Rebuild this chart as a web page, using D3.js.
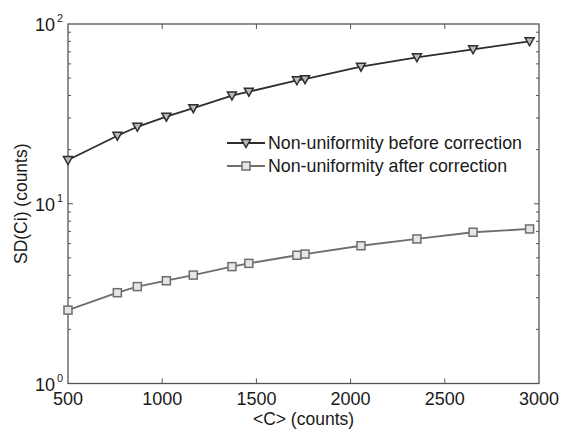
<!DOCTYPE html>
<html>
<head>
<meta charset="utf-8">
<script src="https://cdn.jsdelivr.net/npm/d3@7"></script>
<style>
  body { margin: 0; background: #fff; }
  svg text { font-family: "Liberation Sans", Arial, sans-serif; fill: #1a1a1a; }
</style>
</head>
<body>
<div id="chart"></div>
<script>
// mean counts <C>
const counts = [500, 762, 868, 1022, 1165, 1370, 1460, 1715, 1758, 2055, 2352, 2650, 2950];
// SD(Ci) before / after correction
const sdBefore = [17.5, 23.9, 26.8, 30.5, 34.0, 40.0, 42.0, 48.6, 49.3, 57.9, 65.3, 72.3, 80.1];
const sdAfter = [2.56, 3.20, 3.46, 3.73, 4.01, 4.47, 4.66, 5.17, 5.25, 5.84, 6.37, 6.94, 7.24];
const xTicks = [500, 1000, 1500, 2000, 2500, 3000];
const yDecades = [1, 10, 100];
const legendLabels = ["Non-uniformity before correction", "Non-uniformity after correction"];

const width = 563, height = 432;
const margin = {top: 24, right: 24, bottom: 48.5, left: 68};

const svg = d3.select("#chart").append("svg")
    .attr("width", width)
    .attr("height", height);

const x = d3.scaleLinear().domain([500, 3000]).range([margin.left, width - margin.right]);
const y = d3.scaleLog().domain([1, 100]).range([height - margin.bottom, margin.top]);

const axisColor = "#555";

// minor ticks for log axis
const minorTicks = [];
yDecades.slice(0, -1).forEach(d => {
    for (let k = 2; k <= 9; k++) minorTicks.push(d * k);
});

const g = svg.append("g");

// x ticks (bottom and top, pointing in)
xTicks.slice(1, -1).forEach(t => {
    g.append("line").attr("x1", x(t)).attr("x2", x(t))
        .attr("y1", y(1)).attr("y2", y(1) - 5)
        .attr("stroke", axisColor);
    g.append("line").attr("x1", x(t)).attr("x2", x(t))
        .attr("y1", y(100)).attr("y2", y(100) + 5)
        .attr("stroke", axisColor);
});

// y ticks (left and right)
minorTicks.concat([10]).forEach(t => {
    const len = t === 10 ? 5 : 3;
    g.append("line").attr("x1", x(500)).attr("x2", x(500) + len)
        .attr("y1", y(t)).attr("y2", y(t)).attr("stroke", axisColor);
    g.append("line").attr("x1", x(3000)).attr("x2", x(3000) - len)
        .attr("y1", y(t)).attr("y2", y(t)).attr("stroke", axisColor);
});

// frame
g.append("rect")
    .attr("x", x(500)).attr("y", y(100))
    .attr("width", x(3000) - x(500)).attr("height", y(1) - y(100))
    .attr("fill", "none").attr("stroke", axisColor).attr("stroke-width", 1.3);

// x tick labels
svg.selectAll(".xlab").data(xTicks).enter().append("text")
    .attr("x", d => x(d))
    .attr("y", y(1) + 21)
    .attr("text-anchor", "middle")
    .style("font-size", "18px")
    .text(d => d);

// y tick labels 10^n
yDecades.forEach((d, i) => {
    svg.append("text")
        .attr("x", 55)
        .attr("y", y(d) + 7)
        .attr("text-anchor", "end")
        .style("font-size", "18px")
        .text("10");
    svg.append("text")
        .attr("x", 57)
        .attr("y", y(d) - 2)
        .style("font-size", "11px")
        .text(i);
});

// axis titles
svg.append("text")
    .attr("x", x(1750))
    .attr("y", 425)
    .attr("text-anchor", "middle")
    .style("font-size", "17.5px")
    .text("<C> (counts)");

svg.append("text")
    .attr("transform", `translate(27,${(y(1) + y(100)) / 2}) rotate(-90)`)
    .attr("text-anchor", "middle")
    .style("font-size", "17.5px")
    .text("SD(Ci) (counts)");

const line = d3.line().x(d => x(d[0])).y(d => y(d[1]));

const series = [
    {values: sdBefore, color: "#2e2e2e", marker: "tri"},
    {values: sdAfter, color: "#6e6e6e", marker: "sq"}
];

const drawMarker = (sel, type, color) => {
    if (type === "tri") {
        sel.append("path")
            .attr("d", "M-4.5,-3.5 L4.5,-3.5 L0,4.5 Z")
            .attr("fill", "#bbb").attr("stroke", color).attr("stroke-width", 1.5);
    } else {
        sel.append("rect")
            .attr("x", -4).attr("y", -4).attr("width", 8).attr("height", 8)
            .attr("fill", "#e6e6e6").attr("stroke", color).attr("stroke-width", 1.5);
    }
};

series.forEach(s => {
    const pts = counts.map((c, i) => [c, s.values[i]]);
    svg.append("path")
        .datum(pts)
        .attr("d", line)
        .attr("fill", "none")
        .attr("stroke", s.color)
        .attr("stroke-width", 1.8);
    svg.selectAll(null).data(pts).enter().append("g")
        .attr("transform", d => `translate(${x(d[0])},${y(d[1])})`)
        .each(function () { drawMarker(d3.select(this), s.marker, s.color); });
});

// legend
const legend = svg.append("g");
legendLabels.forEach((label, i) => {
    const ly = 143 + i * 23;
    legend.append("line")
        .attr("x1", 227).attr("x2", 265)
        .attr("y1", ly).attr("y2", ly)
        .attr("stroke", series[i].color).attr("stroke-width", 1.8);
    const m = legend.append("g").attr("transform", `translate(246,${ly})`);
    drawMarker(m, series[i].marker, series[i].color);
    legend.append("text")
        .attr("x", 268)
        .attr("y", ly + 6)
        .style("font-size", "17.8px")
        .text(label);
});
</script>
</body>
</html>
